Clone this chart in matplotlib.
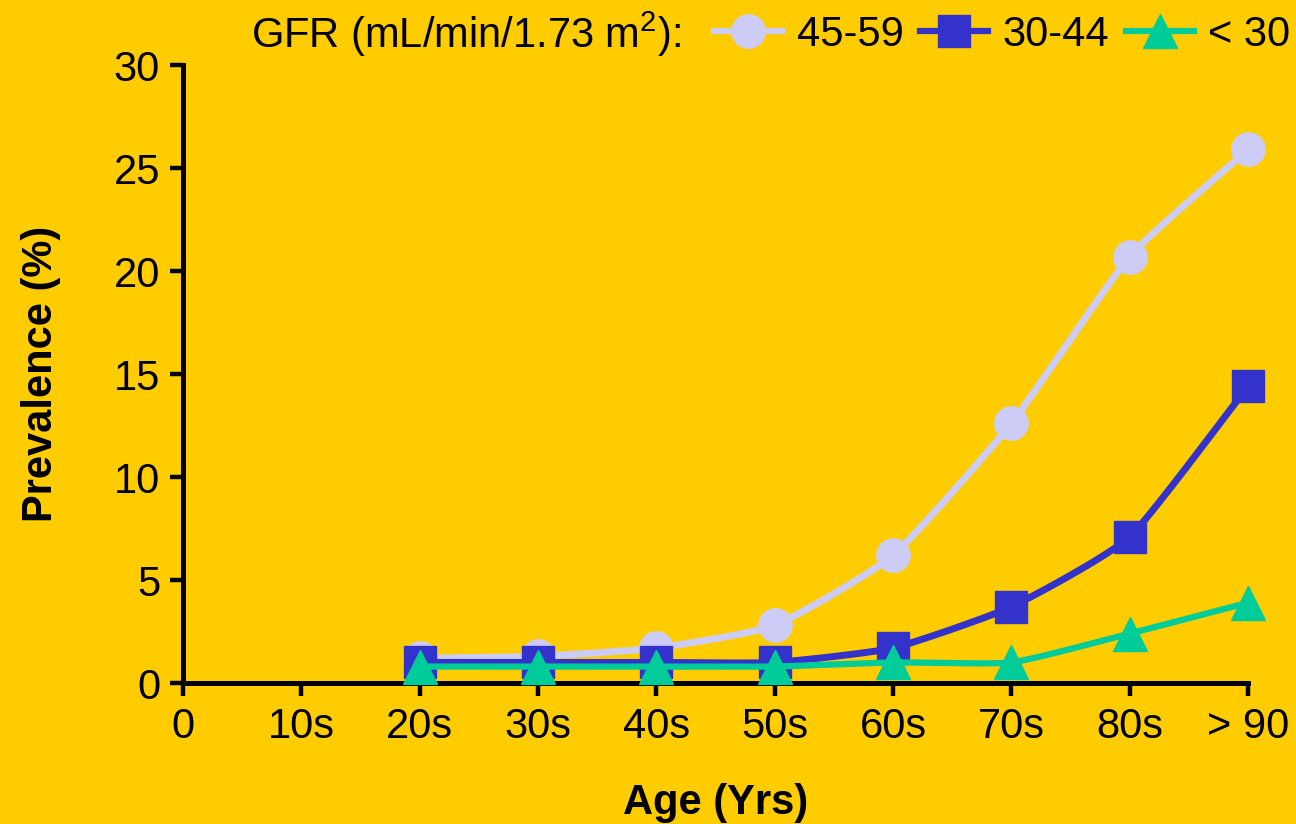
import numpy as np
import matplotlib.pyplot as plt
from matplotlib.lines import Line2D

plt.rcParams['font.family'] = ['Liberation Sans', 'DejaVu Sans']
plt.rcParams['mathtext.default'] = 'regular'

# age groups along the x axis (0 is the origin label)
tick_labels = ['0', '10s', '20s', '30s', '40s', '50s', '60s', '70s', '80s', '> 90']
ages = ['20s', '30s', '40s', '50s', '60s', '70s', '80s', '> 90']

# prevalence (%) by GFR band
gfr_45_59 = [1.2, 1.3, 1.7, 2.8, 6.2, 12.6, 20.7, 25.9]
gfr_30_44 = [1.0, 1.0, 1.0, 1.0, 1.7, 3.7, 7.1, 14.4]
gfr_lt_30 = [0.8, 0.8, 0.8, 0.8, 1.0, 1.0, 2.4, 3.9]

series_names = ['45-59', '30-44', '< 30']
bg = '#FFCC00'


def smooth(x, y, c=0.5, n=30):
    # cardinal spline through the points (c scales the tangents)
    x = np.asarray(x, float)
    y = np.asarray(y, float)
    mx = np.gradient(x) * c
    my = np.gradient(y) * c
    t = np.linspace(0, 1, n)
    h00 = 2 * t**3 - 3 * t**2 + 1
    h10 = t**3 - 2 * t**2 + t
    h01 = -2 * t**3 + 3 * t**2
    h11 = t**3 - t**2
    xs, ys = [], []
    for i in range(len(x) - 1):
        xs.append(h00 * x[i] + h10 * mx[i] + h01 * x[i + 1] + h11 * mx[i + 1])
        ys.append(h00 * y[i] + h10 * my[i] + h01 * y[i + 1] + h11 * my[i + 1])
    return np.concatenate(xs), np.concatenate(ys)


fig = plt.figure(figsize=(12.96, 8.24), dpi=100, facecolor=bg)
ax = fig.add_axes([0.1412, 0.1711, 0.963 - 0.1412, 0.9211 - 0.1711])
ax.set_facecolor(bg)

xpos = [tick_labels.index(a) for a in ages]
styles = [
    (gfr_45_59, '#CCCCF7', 'o', 24, 5.0),
    (gfr_30_44, '#3333CC', 's', 23, 5.0),
    (gfr_lt_30, '#00CC99', '^', 24, 4.5),
]
handles = []
for z, (vals, col, mk, ms, lw) in enumerate(styles):
    sx, sy = smooth(xpos, vals)
    ax.plot(sx, sy, color=col, lw=lw, zorder=2 + z * 2,
            solid_capstyle='round', clip_on=False)
    ax.plot(xpos, vals, ls='none', marker=mk, ms=ms, color=col,
            mec=col, zorder=3 + z * 2, clip_on=False)
    handles.append(Line2D([], [], color=col, lw=4.5, marker=mk, ms=ms,
                          mec=col))

ax.set_xlim(0, 9)
ax.set_ylim(0, 30)
ax.set_xticks(range(len(tick_labels)))
ax.set_xticklabels(tick_labels)
ax.set_yticks(range(0, 31, 5))
for s in ['top', 'right']:
    ax.spines[s].set_visible(False)
for s in ['left', 'bottom']:
    ax.spines[s].set_linewidth(3.6)
    ax.spines[s].set_zorder(1)
ax.tick_params(direction='out', length=9.5, width=3.2, labelsize=30)
ax.tick_params(axis='x', pad=8)
ax.tick_params(axis='y', pad=7)

ax.set_ylabel('Prevalence (%)', fontsize=30, fontweight='bold', labelpad=38)
ax.set_xlabel('Age (Yrs)', fontsize=30, fontweight='bold', labelpad=26)

fig.text(0.1935, 0.958, 'GFR (mL/min/1.73 m$^{2}$):', fontsize=30,
         ha='left', va='center')
fig.legend(handles, series_names, loc='center left',
           bbox_to_anchor=(0.551, 0.958), ncol=3, frameon=False,
           fontsize=30, handlelength=1.63, handletextpad=0.35,
           columnspacing=0.4, borderaxespad=0, borderpad=0)

fig.savefig('out.png', dpi=100, facecolor=bg)
